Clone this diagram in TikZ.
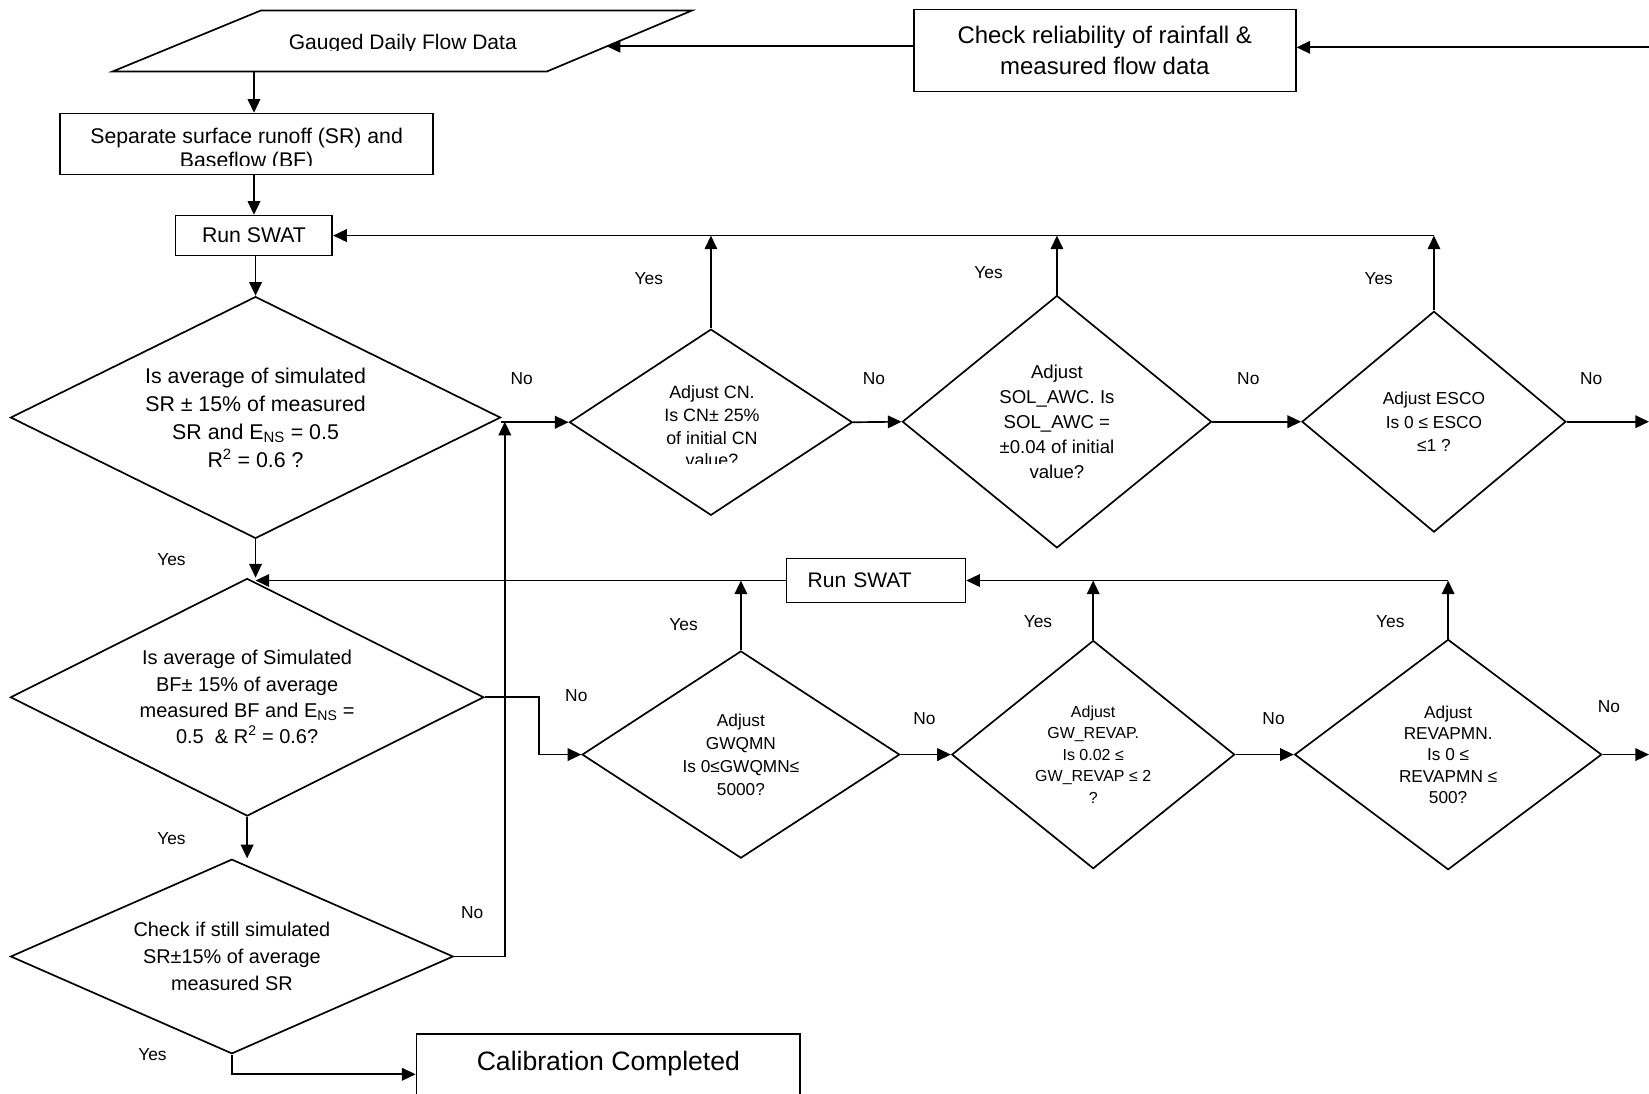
\documentclass[tikz,border=0pt]{standalone}
\usepackage{fontspec}
\setmainfont{Liberation Sans}
\usetikzlibrary{arrows.meta,shapes.geometric,calc}
\newcommand\myfs[2]{\fontsize{#1bp}{#2bp}\selectfont}
\begin{document}
\begin{tikzpicture}[x=1bp,y=-1bp,line width=1.6bp,
  arr/.style={-{Triangle[length=13bp,width=12bp]}},
  box/.style={draw,rectangle,inner sep=0pt,align=center},
  dia/.style={draw,diamond,inner sep=0pt,align=center},
  lab/.style={inner sep=0pt,font=\myfs{16.5}{20}},
  txt/.style={inner sep=0pt,align=center}]
\useasboundingbox (0,0) rectangle (1568,1040);
\fill[white] (0,0) rectangle (1568,1040);

% input parallelogram
\coordinate (gTL) at (248,10);
\coordinate (gTR) at (658,10);
\coordinate (gBR) at (520,68);
\coordinate (gBL) at (107,68);
\draw (gTL) -- (gTR) -- (gBR) -- (gBL) -- cycle;
\coordinate (gR) at (577,44);
\coordinate (gB) at (241.5,68);
\begin{scope}
  \clip (100,0) rectangle (660,48);
  \node[txt,font=\myfs{20}{24},anchor=base] (gauged) at (383,47) {Gauged Daily Flow Data};
\end{scope}

% check reliability
\node[box,minimum width=363bp,minimum height=78bp,font=\myfs{22.8}{30}] (check) at (1050.5,48)
  {Check reliability of rainfall \&\\measured flow data};
\coordinate (eR1) at (1568,45);
\draw[arr] (eR1) -- (eR1 -| check.east);
\draw[arr] (check.west |- gR) -- (gR);

% separate box
\node[box,minimum width=355bp,minimum height=58bp] (sep) at (234.5,137) {};
\begin{scope}
  \clip (57,108) rectangle (412,157);
  \node[txt,font=\myfs{20.2}{23}] (septext) at (234.5,143) {Separate surface runoff (SR) and\\Baseflow (BF)};
\end{scope}
\draw[arr] (gB) -- (gB |- sep.north);

% run swat 1
\node[box,minimum width=149bp,minimum height=38bp,font=\myfs{20.2}{24}] (run1) at (241.5,224) {Run SWAT};
\draw[arr] (run1.north |- sep.south) -- (run1.north);

% decision 1
\node[dia,minimum width=466bp,minimum height=230bp,aspect=2.03,font=\myfs{20.3}{26.7}] (d1) at (243,397)
  {Is average of simulated\\SR ± 15\% of measured\\SR and E\textsubscript{NS} = 0.5\\R\textsuperscript{2} = 0.6 ?};
\draw[arr] (d1.north |- run1.south) -- (d1.north);

% row 1 diamonds
\node[dia,minimum width=269bp,minimum height=177bp,aspect=1.52] (dcn) at (676,401.5) {};
\begin{scope}
  \clip (560,330) rectangle (800,441);
  \node[txt,font=\myfs{17}{21.7}] (cntext) at (677,405.3) {Adjust CN.\\Is CN± 25\%\\of initial CN\\value?};
\end{scope}
\node[dia,minimum width=294bp,minimum height=240bp,aspect=1.225,font=\myfs{17.7}{23.7}] (dsol) at (1005,401)
  {Adjust\\SOL\_AWC. Is\\SOL\_AWC =\\±0.04 of initial\\value?};
\node[dia,minimum width=251bp,minimum height=210bp,aspect=1.195,font=\myfs{16.5}{22}] (desco) at (1363.5,401)
  {Adjust ESCO\\Is 0 ≤ ESCO\\≤1 ?};
\coordinate (eR2) at (1568,401);

\draw[arr] (d1.east |- dcn.west) -- (dcn.west);
\draw[arr] (dcn.east) -- (dsol.west);
\draw[arr] (dsol.east) -- (desco.west);
\draw[arr] (desco.east) -- (eR2);
\draw[arr] (dcn.north) -- (dcn.north |- run1.east);
\draw[arr] (dsol.north) -- (dsol.north |- run1.east);
\draw[arr] (desco.north) -- (desco.north |- run1.east);
\draw[arr] (desco.north |- run1.east) -- (run1.east);

% decision 2
\node[dia,minimum width=450bp,minimum height=226bp,aspect=1.99,font=\myfs{19}{25}] (d2) at (235,663)
  {Is average of Simulated\\BF± 15\% of average\\measured BF and E\textsubscript{NS} =\\0.5 \ \& R\textsuperscript{2} = 0.6?};
\draw[arr] (d1.south) -- (d1.south |- d2.north);

% run swat 2
\node[box,minimum width=170bp,minimum height=42bp,text width=130bp,align=left,inner xsep=20bp,font=\myfs{20}{24}] (run2) at (833,552) {Run SWAT};

% row 2 diamonds
\node[dia,minimum width=302bp,minimum height=197bp,aspect=1.53,font=\myfs{16.4}{21.8}] (dgw) at (704.5,717.5)
  {Adjust\\GWQMN\\Is 0≤GWQMN≤\\5000?};
\node[dia,minimum width=269bp,minimum height=217bp,aspect=1.24,font=\myfs{15.2}{20.5}] (dgwr) at (1039.5,717.5)
  {Adjust\\GW\_REVAP.\\Is 0.02 ≤\\GW\_REVAP ≤ 2\\?};
\node[dia,minimum width=292bp,minimum height=219bp,aspect=1.33,font=\myfs{16.4}{20.3}] (drev) at (1377,717.5)
  {Adjust\\REVAPMN.\\Is 0 ≤\\REVAPMN ≤\\500?};
\coordinate (eR3) at (1568,717.5);

\draw[arr] (d2.east) -- ++(52,0) |- (dgw.west);
\draw[arr] (dgw.east) -- (dgwr.west);
\draw[arr] (dgwr.east) -- (drev.west);
\draw[arr] (drev.east) -- (eR3);
\draw[arr] (dgw.north) -- (dgw.north |- run2.east);
\draw[arr] (dgwr.north) -- (dgwr.north |- run2.east);
\draw[arr] (drev.north) -- (drev.north |- run2.east);
\draw[arr] (drev.north |- run2.east) -- (run2.east);
\draw[arr] (run2.west) -- (d1.south |- run2.west);

% decision 3
\node[dia,minimum width=421bp,minimum height=185bp,aspect=2.28,font=\myfs{18.9}{25.5}] (d3) at (220.5,909.5)
  {Check if still simulated\\SR±15\% of average\\measured SR};
\draw[arr] (d2.south) -- (d2.south |- d3.north);
\coordinate (j1) at (480,401);
\draw[arr] (d3.east) -| (j1);

% calibration completed
\node[box,minimum width=365bp,minimum height=77bp,font=\myfs{25.3}{25.5}] (calib) at (578.5,1021.5)
  {Calibration Completed\\\mbox{}};
\draw[arr] (d3.south) |- (calib.west);

% labels
\node[lab] (y1) at (163,532) {Yes};
\node[lab] (y2) at (163,797) {Yes};
\node[lab] (y3) at (145,1003) {Yes};
\node[lab] (n1) at (496,360) {No};
\node[lab] (n2) at (449,868) {No};
\node[lab] (y4) at (617,265) {Yes};
\node[lab] (n3) at (831,360) {No};
\node[lab] (y5) at (940,259) {Yes};
\node[lab] (n4) at (1187,360) {No};
\node[lab] (y6) at (1311,265) {Yes};
\node[lab] (n5) at (1513,360) {No};
\node[lab] (n6) at (548,661) {No};
\node[lab] (y7) at (650,594) {Yes};
\node[lab] (n7) at (879,683) {No};
\node[lab] (y8) at (987,591) {Yes};
\node[lab] (n8) at (1211,683) {No};
\node[lab] (y9) at (1322,591) {Yes};
\node[lab] (n9) at (1530,672) {No};
\end{tikzpicture}
\end{document}
